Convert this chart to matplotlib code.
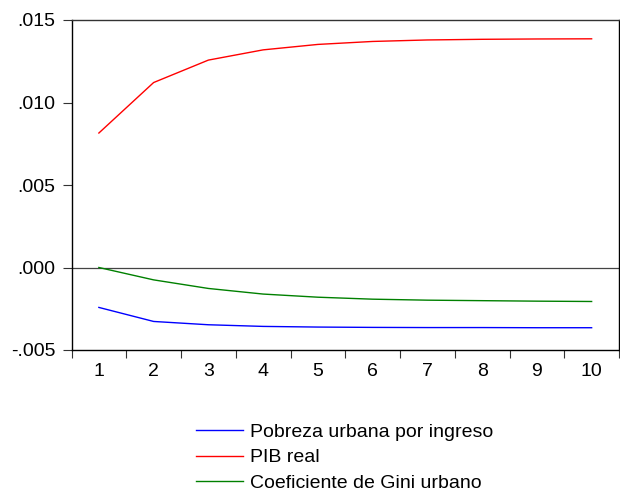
import matplotlib
matplotlib.use("Agg")
import matplotlib.pyplot as plt
from matplotlib.ticker import FixedLocator, FuncFormatter

plt.rcParams['font.family'] = ['Liberation Sans', 'DejaVu Sans']

periods = list(range(1, 11))
tick_labels = [str(p) for p in periods]

pobreza_urbana = [-0.00242, -0.00327, -0.00347, -0.00357, -0.00361,
                  -0.00363, -0.00364, -0.00364, -0.00365, -0.00365]
pib_real = [0.00815, 0.01121, 0.01257, 0.01319, 0.01352,
            0.01370, 0.01379, 0.01383, 0.01385, 0.01386]
gini_urbano = [0.0000, -0.00075, -0.00127, -0.00161, -0.00180,
               -0.00192, -0.00198, -0.00201, -0.00204, -0.00206]

series_names = ["Pobreza urbana por ingreso", "PIB real", "Coeficiente de Gini urbano"]
series_colors = ["#0000FF", "#FF0000", "#008000"]
y_ticks = [-0.005, 0.000, 0.005, 0.010, 0.015]

fig = plt.figure(figsize=(6.2, 4.95), dpi=100)
ax = fig.add_axes([71.5 / 620, 145 / 495, (619 - 71.5) / 620, 330 / 495])

handles = []
for vals, name, col in zip([pobreza_urbana, pib_real, gini_urbano], series_names, series_colors):
    h, = ax.plot(periods, vals, color=col, lw=1.0, label=name)
    handles.append(h)

ax.axhline(0, color="#444444", lw=0.9, zorder=1)

ax.set_xlim(0.5, 10.5)
ax.set_ylim(-0.005, 0.015)

def fmt(v, pos):
    s = f"{v:.3f}"
    if s.startswith("-0"):
        return "-" + s[2:]
    if s.startswith("0"):
        return s[1:]
    return s

ax.yaxis.set_major_locator(FixedLocator(y_ticks))
ax.yaxis.set_major_formatter(FuncFormatter(fmt))
ax.set_xticks(periods)
ax.set_xticklabels(tick_labels)
ax.xaxis.set_minor_locator(FixedLocator([p + 0.5 for p in [0] + periods]))

ax.tick_params(axis='y', which='major', length=6.5, width=0.8, pad=5, labelsize=14, color="#333333")
ax.tick_params(axis='x', which='major', length=0, pad=9, labelsize=14)
ax.tick_params(axis='x', which='minor', length=6, width=0.8, color="#333333")

for side in ['left', 'bottom', 'right']:
    ax.spines[side].set_color('black')
    ax.spines[side].set_linewidth(1.0)
ax.spines['top'].set_color('#333333')
ax.spines['top'].set_linewidth(1.0)

fig.legend(handles=handles, loc='upper left', bbox_to_anchor=(196 / 620, 1 - 423 / 495),
           frameon=False, fontsize=14, handlelength=2.4, handletextpad=0.36,
           labelspacing=0.42, borderpad=0, borderaxespad=0)

fig.savefig("out.png", dpi=100)
